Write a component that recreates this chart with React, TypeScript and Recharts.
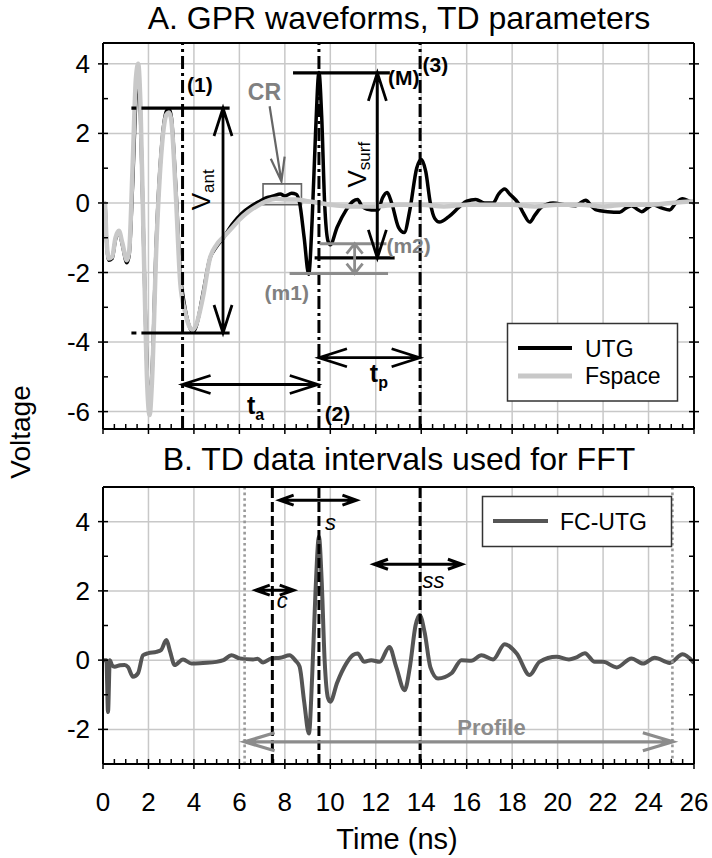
import React from 'react';
import { LineChart, Line, XAxis, YAxis, CartesianGrid, ReferenceLine, ReferenceDot, ReferenceArea } from 'recharts';

const FONT = '"Liberation Sans", Arial, Helvetica, sans-serif';

// ---------- Panel A series (time ns, voltage) ----------
const UTG: [number, number][] = [
  [0, 0], [0.08, 0], [0.15, -1.0], [0.25, -1.65], [0.4, -1.6], [0.55, -1.05], [0.7, -0.85], [0.85, -1.2],
  [1.05, -1.72], [1.15, -1.5], [1.3, 0.5], [1.45, 3.0], [1.55, 3.8], [1.65, 2.5], [1.8, -1.5], [1.95, -5.0],
  [2.05, -5.9], [2.15, -5.0], [2.35, -1.0], [2.6, 1.8], [2.8, 2.65], [2.9, 2.7], [3.0, 2.5], [3.2, 0.5],
  [3.4, -2.0], [3.6, -3.0], [3.8, -3.55], [3.95, -3.72], [4.1, -3.55], [4.4, -2.6], [4.7, -1.6], [4.95, -1.3],
  [5.3, -1.0], [5.7, -0.6], [6.1, -0.3], [6.5, -0.1], [6.9, 0.05], [7.2, 0.15], [7.5, 0.2], [7.8, 0.26],
  [8.0, 0.2], [8.3, 0.28], [8.5, 0.25], [8.65, 0.0], [8.85, -1.0], [9.05, -2.05], [9.2, -0.5], [9.35, 2.0],
  [9.5, 3.75], [9.62, 2.5], [9.75, 0.0], [9.9, -1.1], [10.0, -1.2], [10.3, -0.7], [10.7, -0.2], [11.0, 0.05],
  [11.2, 0.1], [11.4, -0.1], [11.8, -0.2], [12.1, -0.2], [12.3, 0.15], [12.5, 0.3], [12.7, 0.0], [13.0, -0.7],
  [13.25, -0.85], [13.5, -0.2], [13.8, 1.0], [14.0, 1.25], [14.2, 0.9], [14.4, 0.0], [14.6, -0.45], [14.8, -0.55],
  [15.2, -0.4], [15.7, -0.1], [16.0, 0.05], [16.4, 0.1], [16.8, 0.0], [17.16, 0.0], [17.4, 0.25], [17.67, 0.4],
  [17.9, 0.25], [18.26, 0.0], [18.5, -0.3], [18.77, -0.55], [19.0, -0.35], [19.29, -0.12], [19.8, 0.0], [20.3, -0.05],
  [20.8, -0.08], [21.0, 0.0], [21.24, 0.08], [21.5, -0.1], [21.7, -0.2], [22.2, -0.25], [22.73, -0.27], [23.0, -0.15],
  [23.25, -0.08], [23.5, -0.18], [23.7, -0.25], [24.0, -0.12], [24.2, -0.05], [24.6, -0.15], [24.93, -0.2], [25.2, 0.0],
  [25.5, 0.12], [25.8, 0.05], [26.0, 0.0],
];

const FSPACE: [number, number][] = [
  [0, 0], [0.08, 0], [0.15, -1.0], [0.25, -1.6], [0.4, -1.55], [0.55, -1.0], [0.7, -0.8], [0.85, -1.15],
  [1.05, -1.65], [1.15, -1.4], [1.3, 1.0], [1.45, 3.6], [1.55, 4.0], [1.65, 2.8], [1.8, -1.5], [1.95, -5.3],
  [2.05, -6.1], [2.15, -5.2], [2.35, -1.2], [2.6, 1.7], [2.8, 2.55], [2.9, 2.6], [3.0, 2.4], [3.2, 0.3],
  [3.4, -2.3], [3.6, -3.1], [3.8, -3.55], [3.95, -3.65], [4.1, -3.5], [4.4, -2.7], [4.7, -1.6], [5.0, -1.2],
  [5.3, -0.98], [5.7, -0.7], [6.0, -0.48], [6.4, -0.25], [6.75, -0.1], [7.2, 0.05], [7.6, 0.12], [8.0, 0.1],
  [8.5, 0.1], [9.0, 0.05], [9.5, 0.0], [10.0, -0.05], [11.0, -0.1], [12.0, -0.1], [13.0, -0.05], [14.0, -0.05],
  [15.0, -0.1], [16.0, -0.05], [17.0, -0.05], [18.0, -0.05], [19.0, -0.1], [20.0, -0.05], [21.0, -0.05], [22.0, -0.1],
  [23.0, -0.05], [24.0, -0.05], [25.0, 0.0], [26.0, 0.05],
];

// ---------- Panel B series ----------
const FC_UTG: [number, number][] = [
  [0, 0], [0.15, 0], [0.22, -1.5], [0.3, 0.0], [0.4, -0.15], [0.51, -0.19], [0.75, -0.15], [0.95, -0.14],
  [1.1, -0.2], [1.32, -0.48], [1.54, -0.38], [1.76, 0.14], [2.0, 0.2], [2.35, 0.24], [2.55, 0.29], [2.79, 0.58],
  [2.95, 0.25], [3.15, -0.14], [3.52, 0.02], [3.89, -0.1], [4.4, -0.08], [4.99, -0.05], [5.3, 0.0], [5.65, 0.14],
  [6.02, 0.05], [6.6, 0.02], [6.8, 0.04], [7.04, -0.07], [7.41, 0.05], [7.8, 0.07], [8.21, 0.14], [8.45, 0.0],
  [8.65, -0.19], [8.85, -1.2], [9.06, -2.12], [9.2, -0.5], [9.35, 2.0], [9.5, 3.56], [9.62, 2.3], [9.75, 0.0],
  [9.9, -1.1], [10.0, -1.2], [10.3, -0.65], [10.7, -0.1], [11.0, 0.15], [11.2, 0.19], [11.5, -0.05], [11.8, 0.0],
  [12.17, -0.05], [12.6, 0.38], [12.9, -0.2], [13.27, -0.87], [13.5, -0.2], [13.75, 1.0], [13.93, 1.3], [14.15, 0.8],
  [14.4, -0.2], [14.74, -0.53], [15.33, -0.38], [15.77, 0.0], [16.2, -0.02], [16.65, 0.14], [17.16, 0.02], [17.67, 0.46],
  [18.2, 0.19], [18.77, -0.43], [19.2, -0.05], [19.95, 0.1], [20.5, 0.02], [20.8, 0.07], [21.2, 0.2], [21.63, -0.05],
  [22.0, -0.05], [22.6, -0.21], [23.25, 0.05], [23.76, -0.1], [24.27, 0.07], [24.93, -0.08], [25.5, 0.17], [26.0, -0.08],
];

// ---------- axes ----------
const X_DOMAIN: [number, number] = [0, 26];
const A_DOMAIN: [number, number] = [-6.5, 4.6];
const B_DOMAIN: [number, number] = [-3, 5];
const X_TICKS: number[] = Array.from({ length: 53 }, (_, i) => i * 0.5);
const X_GRID = [2, 4, 6, 8, 10, 12, 14, 16, 18, 20, 22, 24];
const A_TICKS = [-6, -5, -4, -3, -2, -1, 0, 1, 2, 3, 4];
const A_GRID = [-6, -4, -2, 0, 2, 4];
const B_TICKS = [-3, -2, -1, 0, 1, 2, 3, 4, 5];
const B_GRID = [-2, 0, 2, 4];

// ---------- Panel A annotations ----------
const A_MARKERS = [3.5, 9.5, 13.95];
const A_VANT_BARS = [
  { t1: 1.25, t2: 5.57, v: 2.73 },
  { t1: 1.25, t2: 5.57, v: -3.74 },
];
const A_VSURF_BARS = [
  { t1: 8.36, t2: 12.62, v: 3.74 },
  { t1: 9.31, t2: 12.83, v: -1.58 },
];
const A_GRAY_BARS = [
  { t1: 9.53, t2: 12.47, v: -1.17 },
  { t1: 8.21, t2: 12.54, v: -2.03 },
];
const A_ARROWS = [
  { t1: 5.28, v1: 2.73, t2: 5.28, v2: -3.74 },
  { t1: 12.07, v1: 3.74, t2: 12.07, v2: -1.58 },
  { t1: 3.5, v1: -5.22, t2: 9.45, v2: -5.22 },
  { t1: 9.5, v1: -4.45, t2: 13.93, v2: -4.45 },
];
const A_M_ARROW = { t1: 11.07, v1: -1.17, t2: 11.07, v2: -2.03 };
const A_CR_ARROW = { t1: 7.33, v1: 2.78, t2: 7.85, v2: 0.62 };
const A_CR_BOX = { t1: 7.04, t2: 8.73, v1: -0.05, v2: 0.55 };
const A_BLACK_LABELS = [
  { t: 3.7, v: 3.2, text: '(1)' },
  { t: 9.75, v: -6.28, text: '(2)' },
  { t: 12.54, v: 3.4, text: '(M)' },
  { t: 14.06, v: 3.77, text: '(3)' },
];
const A_GRAY_LABELS = [
  { t: 6.37, v: 2.97, text: 'CR', size: 23 },
  { t: 7.11, v: -2.78, text: '(m1)', size: 21 },
  { t: 12.47, v: -1.43, text: '(m2)', size: 21 },
];
const A_VLABELS = [
  { t: 4.7, v: 0.38, main: 'V', sub: 'ant' },
  { t: 11.56, v: 1.1, main: 'V', sub: 'surf' },
];
const A_TLABELS = [
  { t: 6.33, v: -6.08, main: 't', sub: 'a' },
  { t: 11.74, v: -5.16, main: 't', sub: 'p' },
];

// ---------- Panel B annotations ----------
const B_DOTTED = [6.23, 25.05];
const B_DASHED = [7.45, 9.5, 13.95];
const B_ARROWS = [
  { t1: 7.77, t2: 11.15, v: 4.62 },
  { t1: 6.72, t2: 8.39, v: 2.02 },
  { t1: 11.92, t2: 15.79, v: 2.77 },
];
const B_ARROW_LABELS = [
  { t: 9.77, v: 3.75, text: 's' },
  { t: 7.64, v: 1.5, text: 'c' },
  { t: 14.06, v: 2.08, text: 'ss' },
];
const B_PROFILE = { t1: 6.23, t2: 25.07, v: -2.36 };
const B_PROFILE_LABEL = { t: 17.09, v: -2.16, text: 'Profile' };

const rows = (pts: [number, number][]) => pts.map(([t, v]) => ({ t, v }));

function arrowShape(color: string, width: number, headLen: number, headHalf: number, startHead: boolean, endHead: boolean) {
  return (p: any) => {
    const { x1, y1, x2, y2 } = p;
    const dx = x2 - x1;
    const dy = y2 - y1;
    const L = Math.hypot(dx, dy) || 1;
    const ux = dx / L;
    const uy = dy / L;
    const nx = -uy;
    const ny = ux;
    const head = (tx: number, ty: number, dx1: number, dy1: number) =>
      `M${tx - dx1 * headLen + nx * headHalf},${ty - dy1 * headLen + ny * headHalf} L${tx},${ty} L${tx - dx1 * headLen - nx * headHalf},${ty - dy1 * headLen - ny * headHalf}`;
    let d = `M${x1},${y1} L${x2},${y2}`;
    if (endHead) d += ' ' + head(x2, y2, ux, uy);
    if (startHead) d += ' ' + head(x1, y1, -ux, -uy);
    return <path d={d} stroke={color} strokeWidth={width} fill="none" strokeLinejoin="miter" strokeLinecap="butt" />;
  };
}

const isMajor = (v: number) => Math.abs(v % 2) < 1e-6;

const bottomTick = (labels: boolean) => (p: any) => {
  const { x, y, payload } = p;
  const v = payload.value;
  const major = isMajor(v);
  return (
    <g>
      <line x1={x} x2={x} y1={y - 5} y2={major ? y + 5 : y} stroke="#000" strokeWidth={1.5} />
      {labels && major ? (
        <text x={x} y={y + 47} textAnchor="middle" fontSize={26} fontFamily={FONT} fill="#000">{v}</text>
      ) : null}
    </g>
  );
};
const topTick = (p: any) => {
  const { x, y, payload } = p;
  const major = isMajor(payload.value);
  return <line x1={x} x2={x} y1={major ? y - 5 : y} y2={y + 5} stroke="#000" strokeWidth={1.5} />;
};
const leftTick = (p: any) => {
  const { x, y, payload } = p;
  const v = payload.value;
  const major = isMajor(v);
  return (
    <g>
      <line x1={major ? x - 5 : x} x2={x + 5} y1={y} y2={y} stroke="#000" strokeWidth={1.5} />
      {major ? (
        <text x={x - 13} y={y + 9} textAnchor="end" fontSize={26} fontFamily={FONT} fill="#000">{v}</text>
      ) : null}
    </g>
  );
};
const rightTick = (p: any) => {
  const { x, y, payload } = p;
  const major = isMajor(payload.value);
  return <line x1={x - 5} x2={major ? x + 5 : x} y1={y} y2={y} stroke="#000" strokeWidth={1.5} />;
};

const textShape = (text: string, size: number, color: string, weight: string, style: string, anchor: string = 'start') => (p: any) => (
  <text x={p.cx} y={p.cy} fontSize={size} fontFamily={FONT} fill={color} fontWeight={weight} fontStyle={style} textAnchor={anchor}>{text}</text>
);

const subShape = (main: string, sub: string, size: number, subSize: number, rotate: boolean) => (p: any) => (
  <text
    x={p.cx}
    y={p.cy}
    fontSize={size}
    fontFamily={FONT}
    fill="#000"
    fontWeight={rotate ? 'normal' : 'bold'}
    textAnchor={rotate ? 'middle' : 'start'}
    transform={rotate ? `rotate(-90 ${p.cx} ${p.cy})` : undefined}
  >
    {main}
    <tspan fontSize={subSize} dy={rotate ? 4 : 6}>{sub}</tspan>
  </text>
);

const AXIS_LINE = { stroke: '#000', strokeWidth: 2 };
const xCommon = { type: 'number' as const, domain: X_DOMAIN, ticks: X_TICKS, interval: 0 as const, tickSize: 0, tickMargin: 0, allowDataOverflow: true, height: 1, tickLine: false, axisLine: AXIS_LINE };

function yCommon(domain: [number, number], ticks: number[]) {
  return { type: 'number' as const, domain, ticks, interval: 0 as const, width: 1, tickSize: 0, tickMargin: 0, allowDataOverflow: true, tickLine: false, axisLine: AXIS_LINE };
}

function PanelA() {
  return (
    <LineChart width={712} height={440} margin={{ top: 42, right: 17, bottom: 10, left: 102 }}>
      <CartesianGrid verticalValues={X_GRID} horizontalValues={A_GRID} stroke="#c8c8c8" strokeWidth={1.5} />
      <XAxis dataKey="t" {...xCommon} tick={bottomTick(false)} />
      <XAxis xAxisId="top" orientation="top" {...xCommon} tick={topTick} />
      <YAxis {...yCommon(A_DOMAIN, A_TICKS)} tick={leftTick} />
      <YAxis yAxisId="right" orientation="right" {...yCommon(A_DOMAIN, A_TICKS)} tick={rightTick} />
      <Line data={rows(UTG)} dataKey="v" type="monotone" stroke="#000" strokeWidth={3.5} dot={false} isAnimationActive={false} name="UTG" />
      <Line data={rows(FSPACE)} dataKey="v" type="monotone" stroke="#c8c8c8" strokeWidth={4.5} dot={false} isAnimationActive={false} name="Fspace" />
      {A_MARKERS.map((t) => (
        <ReferenceLine key={'m' + t} x={t} stroke="#000" strokeWidth={3} strokeDasharray="13 4 3 4" />
      ))}
      {A_VANT_BARS.map((b, i) => (
        <ReferenceLine key={'vb' + i} segment={[{ x: b.t1, y: b.v }, { x: b.t2, y: b.v }]} stroke="#000" strokeWidth={3.2} strokeDasharray="5 5 400" />
      ))}
      {A_VSURF_BARS.map((b, i) => (
        <ReferenceLine key={'sb' + i} segment={[{ x: b.t1, y: b.v }, { x: b.t2, y: b.v }]} stroke="#000" strokeWidth={3.2} />
      ))}
      {A_GRAY_BARS.map((b, i) => (
        <ReferenceLine key={'gb' + i} segment={[{ x: b.t1, y: b.v }, { x: b.t2, y: b.v }]} stroke="#8c8c8c" strokeWidth={3} />
      ))}
      {A_ARROWS.map((a, i) => (
        <ReferenceLine key={'ar' + i} segment={[{ x: a.t1, y: a.v1 }, { x: a.t2, y: a.v2 }]} shape={arrowShape('#000', 2.8, 28, 9, true, true)} />
      ))}
      <ReferenceLine segment={[{ x: A_M_ARROW.t1, y: A_M_ARROW.v1 }, { x: A_M_ARROW.t2, y: A_M_ARROW.v2 }]} shape={arrowShape('#8c8c8c', 2.8, 10, 8, true, true)} />
      <ReferenceLine segment={[{ x: A_CR_ARROW.t1, y: A_CR_ARROW.v1 }, { x: A_CR_ARROW.t2, y: A_CR_ARROW.v2 }]} shape={arrowShape('#666', 2.2, 24, 7, false, true)} />
      <ReferenceArea x1={A_CR_BOX.t1} x2={A_CR_BOX.t2} y1={A_CR_BOX.v1} y2={A_CR_BOX.v2} fill="none" fillOpacity={0} stroke="#666" strokeWidth={1.6} />
      {A_BLACK_LABELS.map((l, i) => (
        <ReferenceDot key={'bl' + i} x={l.t} y={l.v} r={0} shape={textShape(l.text, 21, '#000', 'bold', 'normal')} />
      ))}
      {A_GRAY_LABELS.map((l, i) => (
        <ReferenceDot key={'gl' + i} x={l.t} y={l.v} r={0} shape={textShape(l.text, l.size, '#808080', 'bold', 'normal')} />
      ))}
      {A_VLABELS.map((l, i) => (
        <ReferenceDot key={'vl' + i} x={l.t} y={l.v} r={0} shape={subShape(l.main, l.sub, 26, 17, true)} />
      ))}
      {A_TLABELS.map((l, i) => (
        <ReferenceDot key={'tl' + i} x={l.t} y={l.v} r={0} shape={subShape(l.main, l.sub, 25, 16, false)} />
      ))}
    </LineChart>
  );
}

function PanelB() {
  return (
    <LineChart width={712} height={418} margin={{ top: 46, right: 17, bottom: 93, left: 102 }}>
      <CartesianGrid verticalValues={X_GRID} horizontalValues={B_GRID} stroke="#c8c8c8" strokeWidth={1.5} />
      <XAxis dataKey="t" {...xCommon} tick={bottomTick(true)} />
      <XAxis xAxisId="top" orientation="top" {...xCommon} tick={topTick} />
      <YAxis {...yCommon(B_DOMAIN, B_TICKS)} tick={leftTick} />
      <YAxis yAxisId="right" orientation="right" {...yCommon(B_DOMAIN, B_TICKS)} tick={rightTick} />
      <Line data={rows(FC_UTG)} dataKey="v" type="monotone" stroke="#555" strokeWidth={4} dot={false} isAnimationActive={false} name="FC-UTG" />
      {B_DOTTED.map((t) => (
        <ReferenceLine key={'d' + t} x={t} stroke="#999" strokeWidth={2.6} strokeDasharray="2.6 3" />
      ))}
      {B_DASHED.map((t) => (
        <ReferenceLine key={'k' + t} x={t} stroke="#000" strokeWidth={3} strokeDasharray="10 4" />
      ))}
      {B_ARROWS.map((a, i) => (
        <ReferenceLine key={'ba' + i} segment={[{ x: a.t1, y: a.v }, { x: a.t2, y: a.v }]} shape={arrowShape('#000', 3, 14, 5, true, true)} />
      ))}
      {B_ARROW_LABELS.map((l, i) => (
        <ReferenceDot key={'bal' + i} x={l.t} y={l.v} r={0} shape={textShape(l.text, 22, '#000', 'normal', 'italic')} />
      ))}
      <ReferenceLine segment={[{ x: B_PROFILE.t1, y: B_PROFILE.v }, { x: B_PROFILE.t2, y: B_PROFILE.v }]} shape={arrowShape('#8c8c8c', 3.2, 30, 9, true, true)} />
      <ReferenceDot x={B_PROFILE_LABEL.t} y={B_PROFILE_LABEL.v} r={0} shape={textShape(B_PROFILE_LABEL.text, 22, '#8c8c8c', 'bold', 'normal', 'middle')} />
    </LineChart>
  );
}

export default function App() {
  return (
    <div style={{ position: 'absolute', left: 0, top: 0, width: 712, height: 858, background: '#fff', fontFamily: FONT }}>
      <div style={{ position: 'absolute', left: 0, top: 0 }}>
        <PanelA />
      </div>
      <div style={{ position: 'absolute', left: 0, top: 440 }}>
        <PanelB />
      </div>
      <svg width={712} height={858} style={{ position: 'absolute', left: 0, top: 0, pointerEvents: 'none' }}>
        <text x={399} y={29} textAnchor="middle" fontSize={32} fontFamily={FONT} fill="#000">A. GPR waveforms, TD parameters</text>
        <text x={399} y={470} textAnchor="middle" fontSize={32} fontFamily={FONT} fill="#000">B. TD data intervals used for FFT</text>
        <text x={397} y={849} textAnchor="middle" fontSize={29} fontFamily={FONT} fill="#000">Time (ns)</text>
        <text x={30} y={432} textAnchor="middle" fontSize={28} fontFamily={FONT} fill="#000" transform="rotate(-90 30 432)">Voltage</text>
        {/* legend A */}
        <rect x={507.5} y={323.5} width={170} height={77.5} fill="#fff" stroke="#333" strokeWidth={1.5} />
        <line x1={518} x2={572} y1={348} y2={348} stroke="#000" strokeWidth={4} />
        <line x1={518} x2={572} y1={376} y2={376} stroke="#c8c8c8" strokeWidth={5} />
        <text x={585} y={357} fontSize={23} fontFamily={FONT} fill="#000">UTG</text>
        <text x={585} y={384} fontSize={23} fontFamily={FONT} fill="#000">Fspace</text>
        {/* legend B */}
        <rect x={482.5} y={496.5} width={189} height={50} fill="#fff" stroke="#333" strokeWidth={1.5} />
        <line x1={493} x2={548} y1={521} y2={521} stroke="#555" strokeWidth={4} />
        <text x={560} y={530} fontSize={23} fontFamily={FONT} fill="#000">FC-UTG</text>
      </svg>
    </div>
  );
}
